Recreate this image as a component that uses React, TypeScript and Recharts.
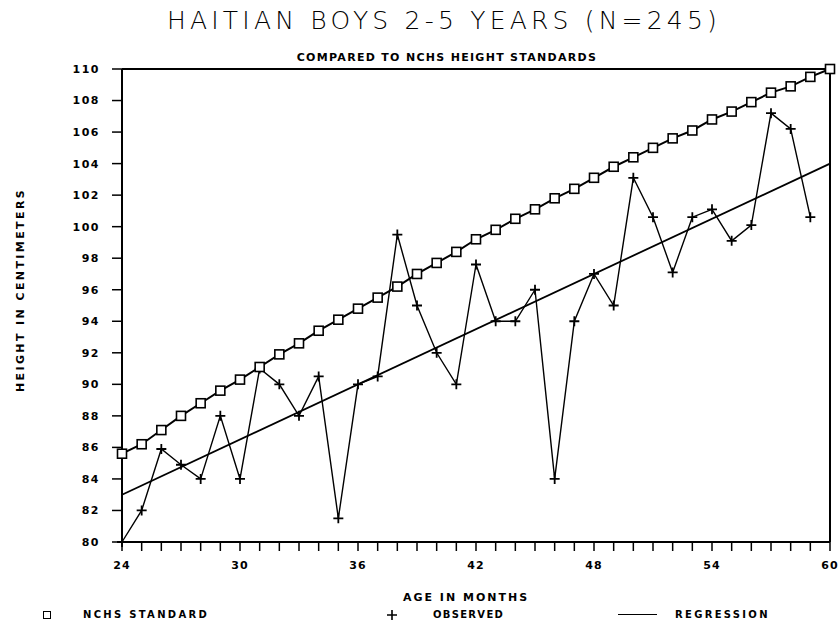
import React from 'react';
import { LineChart, Line, XAxis, YAxis, ReferenceLine } from 'recharts';

const months = [24, 25, 26, 27, 28, 29, 30, 31, 32, 33, 34, 35, 36, 37, 38, 39, 40, 41, 42, 43, 44, 45, 46, 47, 48, 49, 50, 51, 52, 53, 54, 55, 56, 57, 58, 59, 60];
const nchsStandard = [85.6, 86.2, 87.1, 88.0, 88.8, 89.6, 90.3, 91.1, 91.9, 92.6, 93.4, 94.1, 94.8, 95.5, 96.2, 97.0, 97.7, 98.4, 99.2, 99.8, 100.5, 101.1, 101.8, 102.4, 103.1, 103.8, 104.4, 105.0, 105.6, 106.1, 106.8, 107.3, 107.9, 108.5, 108.9, 109.5, 110.0];
const observed = [80.0, 82.0, 85.9, 84.9, 84.0, 88.0, 84.0, 91.0, 90.0, 88.0, 90.5, 81.5, 90.0, 90.5, 99.5, 95.0, 92.0, 90.0, 97.6, 94.0, 94.0, 96.0, 84.0, 94.0, 97.0, 95.0, 103.1, 100.6, 97.1, 100.6, 101.1, 99.1, 100.1, 107.2, 106.2, 100.6];
const regressionMonths = [24, 60];
const regressionValues = [83.0, 104.0];
const xTickLabels = [24, 30, 36, 42, 48, 54, 60];
const yTicks = [80, 82, 84, 86, 88, 90, 92, 94, 96, 98, 100, 102, 104, 106, 108, 110];

const data = months.map((m, i) => {
  const ri = regressionMonths.indexOf(m);
  return {
    month: m,
    nchs: nchsStandard[i],
    observed: i < observed.length ? observed[i] : null,
    regression: ri >= 0 ? regressionValues[ri] : null,
  };
});

const FONT = '"DejaVu Sans", sans-serif';

const SquareDot = (props: any) => {
  const { cx, cy, index } = props;
  if (cx == null || cy == null) return <g key={'s' + index} />;
  return <rect key={'s' + index} x={cx - 4.5} y={cy - 4.5} width={9} height={9} fill="#fff" stroke="#000" strokeWidth={1.6} />;
};

const PlusDot = (props: any) => {
  const { cx, cy, index } = props;
  if (cx == null || cy == null) return <g key={'p' + index} />;
  return <path key={'p' + index} d={`M${cx - 5},${cy}H${cx + 5}M${cx},${cy - 5}V${cy + 5}`} stroke="#000" strokeWidth={1.8} fill="none" />;
};

const textStyle: React.CSSProperties = {
  position: 'absolute',
  fontFamily: FONT,
  color: '#000',
  whiteSpace: 'nowrap',
  lineHeight: 1,
};

export default function App() {
  return (
    <div style={{ position: 'absolute', left: 0, top: 0, width: 840, height: 626, background: '#fff' }}>
      <div style={{ ...textStyle, left: 444, top: 20, fontSize: 25, fontWeight: 300, letterSpacing: 4.2, transform: 'translate(-50%, -50%)' }}>
        HAITIAN BOYS 2-5 YEARS (N=245)
      </div>
      <div style={{ ...textStyle, left: 447, top: 57, fontSize: 11, fontWeight: 'bold', letterSpacing: 1.3, transform: 'translate(-50%, -50%)' }}>
        COMPARED TO NCHS HEIGHT STANDARDS
      </div>
      <div style={{ ...textStyle, left: 20, top: 290, fontSize: 11, fontWeight: 'bold', letterSpacing: 2.4, transform: 'translate(-50%, -50%) rotate(-90deg)' }}>
        HEIGHT IN CENTIMETERS
      </div>
      <div style={{ ...textStyle, left: 466, top: 597, fontSize: 11, fontWeight: 'bold', letterSpacing: 2, transform: 'translate(-50%, -50%)' }}>
        AGE IN MONTHS
      </div>
      <LineChart width={840} height={626} data={data} margin={{ top: 69, right: 10, bottom: 0, left: 0 }}>
        <XAxis
          type="number"
          dataKey="month"
          domain={[24, 60]}
          ticks={months}
          interval={0}
          height={84}
          tickSize={9}
          tickMargin={10}
          axisLine={{ stroke: '#000', strokeWidth: 2 }}
          tickLine={{ stroke: '#000', strokeWidth: 1.5 }}
          tick={{ fill: '#000', fontSize: 11, fontFamily: FONT, fontWeight: 'bold', letterSpacing: 1 }}
          tickFormatter={(v: number) => (xTickLabels.indexOf(v) >= 0 ? String(v) : '')}
        />
        <YAxis
          type="number"
          domain={[80, 110]}
          ticks={yTicks}
          interval={0}
          width={122}
          tickSize={10}
          tickMargin={12}
          axisLine={{ stroke: '#000', strokeWidth: 2 }}
          tickLine={{ stroke: '#000', strokeWidth: 1.5 }}
          tick={{ fill: '#000', fontSize: 11, fontFamily: FONT, fontWeight: 'bold', letterSpacing: 1.5 }}
        />
        <ReferenceLine y={110} stroke="#000" strokeWidth={2} ifOverflow="extendDomain" />
        <ReferenceLine x={60} stroke="#000" strokeWidth={2} />
        <Line type="linear" dataKey="regression" stroke="#000" strokeWidth={1.8} dot={false} connectNulls isAnimationActive={false} />
        <Line type="linear" dataKey="observed" stroke="#000" strokeWidth={1.4} dot={PlusDot} isAnimationActive={false} />
        <Line type="linear" dataKey="nchs" stroke="#000" strokeWidth={2} dot={SquareDot} isAnimationActive={false} />
      </LineChart>
      <div style={{ position: 'absolute', left: 43, top: 611, width: 8, height: 8, border: '1.5px solid #000', boxSizing: 'border-box' }} />
      <div style={{ ...textStyle, left: 83, top: 615, fontSize: 10, fontWeight: 'bold', letterSpacing: 2.3, transform: 'translateY(-50%)' }}>
        NCHS STANDARD
      </div>
      <svg style={{ position: 'absolute', left: 387, top: 610, display: 'block' }} width={10} height={10}>
        <path d="M0,5H10M5,0V10" stroke="#000" strokeWidth={1.6} />
      </svg>
      <div style={{ ...textStyle, left: 433, top: 615, fontSize: 10, fontWeight: 'bold', letterSpacing: 1.3, transform: 'translateY(-50%)' }}>
        OBSERVED
      </div>
      <div style={{ position: 'absolute', left: 618, top: 614, width: 39, height: 0, borderTop: '1.5px solid #000' }} />
      <div style={{ ...textStyle, left: 675, top: 615, fontSize: 10, fontWeight: 'bold', letterSpacing: 2.3, transform: 'translateY(-50%)' }}>
        REGRESSION
      </div>
    </div>
  );
}
